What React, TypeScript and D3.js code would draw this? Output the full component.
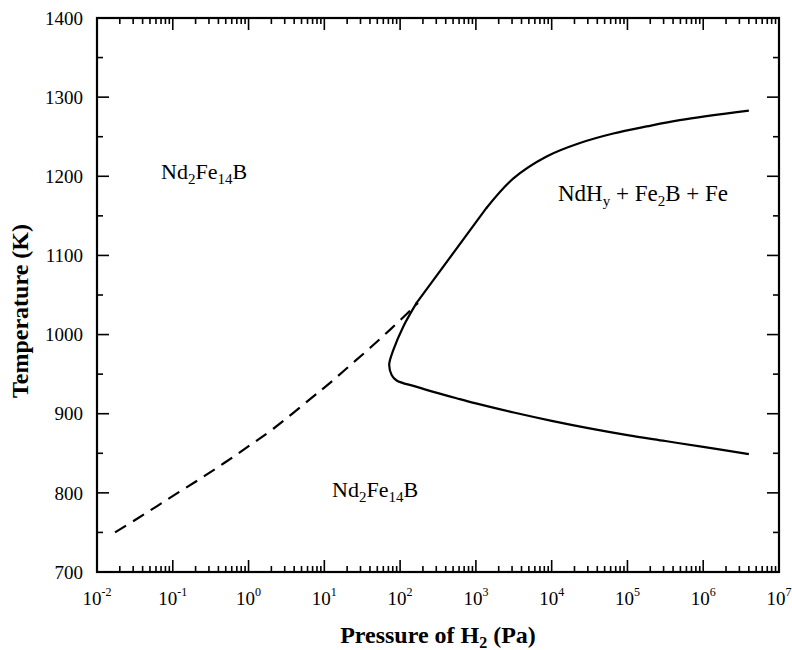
import React from "react";
import * as d3 from "d3";

// Dashed (metastable) boundary: pressure (Pa) and temperature (K)
const dashedP = [0.0173, 0.0334, 0.0614, 0.112, 0.207, 0.361, 0.662, 1.15, 2.12, 6.79, 11.9, 21.8, 40.0, 73.3, 135, 172];
const dashedT = [750, 767, 783, 799, 815, 830, 847, 863, 881, 920, 939, 961, 983, 1006, 1030, 1040];

// Upper solid branch (from high pressure end down to the kink)
const upperP = [4.0e6, 4.9e5, 1.79e5, 6.5e4, 2.36e4, 8570, 3100, 1380];
const upperT = [1283, 1271, 1263, 1254, 1242, 1225, 1197, 1160];

// Straight part below the kink
const straightP = [1380, 165];
const straightT = [1160, 1040];

// Nose and low-temperature branch
const lowerP = [165, 110, 81, 71.8, 77.3, 90, 158, 316, 556, 1000, 3162, 10000, 31623, 100000, 316228, 1.0e6, 4.0e6];
const lowerT = [1040, 1010, 980, 962, 949, 942, 934.5, 926, 919.5, 913, 901.5, 891, 881.5, 873, 865.5, 858, 849];

const xTickExps = [-2, -1, 0, 1, 2, 3, 4, 5, 6, 7];
const yTicks = [700, 800, 900, 1000, 1100, 1200, 1300, 1400];
const yMinorTicks = [750, 850, 950, 1050, 1150, 1250, 1350];

const FONT = "'Liberation Serif', 'Times New Roman', Times, serif";

export default function App() {
  const W = 792;
  const H = 650;
  const left = 97, right = 779, top = 18, bottom = 572;
  const x = d3.scaleLog().domain([1e-2, 1e7]).range([left, right]);
  const y = d3.scaleLinear().domain([700, 1400]).range([bottom, top]);

  const line = d3
    .line<[number, number]>()
    .x((d) => x(d[0]))
    .y((d) => y(d[1]))
    .curve(d3.curveCatmullRom.alpha(0.5));
  const lineStraight = d3
    .line<[number, number]>()
    .x((d) => x(d[0]))
    .y((d) => y(d[1]));

  const dashed = dashedP.map((p, i) => [p, dashedT[i]] as [number, number]);
  const upper = upperP.map((p, i) => [p, upperT[i]] as [number, number]);
  const straight = straightP.map((p, i) => [p, straightT[i]] as [number, number]);
  const lower = lowerP.map((p, i) => [p, lowerT[i]] as [number, number]);

  const minorX: number[] = [];
  for (let e = -2; e < 7; e++) {
    for (let k = 2; k <= 9; k++) minorX.push(k * Math.pow(10, e));
  }

  const MAJ = 12;
  const MIN = 6;

  return (
    <div style={{ position: "absolute", left: 0, top: 0 }}>
      <svg width={W} height={H} style={{ display: "block", background: "#fff" }}>
        <rect x={0} y={0} width={W} height={H} fill="#fff" />
        {/* ticks */}
        <g stroke="#000" strokeWidth={1.6}>
          {xTickExps.map((e) => {
            const xv = x(Math.pow(10, e));
            return (
              <g key={"xm" + e}>
                <line x1={xv} x2={xv} y1={bottom} y2={bottom - MAJ} />
                <line x1={xv} x2={xv} y1={top} y2={top + MAJ} />
              </g>
            );
          })}
          {minorX.map((v, i) => {
            const xv = x(v);
            return (
              <g key={"xn" + i}>
                <line x1={xv} x2={xv} y1={bottom} y2={bottom - MIN} />
                <line x1={xv} x2={xv} y1={top} y2={top + MIN} />
              </g>
            );
          })}
          {yTicks.map((t) => (
            <g key={"ym" + t}>
              <line x1={left} x2={left + MAJ} y1={y(t)} y2={y(t)} />
              <line x1={right} x2={right - MAJ} y1={y(t)} y2={y(t)} />
            </g>
          ))}
          {yMinorTicks.map((t) => (
            <g key={"yn" + t}>
              <line x1={left} x2={left + MIN} y1={y(t)} y2={y(t)} />
              <line x1={right} x2={right - MIN} y1={y(t)} y2={y(t)} />
            </g>
          ))}
        </g>
        {/* frame */}
        <rect x={left} y={top} width={right - left} height={bottom - top} fill="none" stroke="#000" strokeWidth={2.2} />

        {/* curves */}
        <path d={line(dashed) || ""} fill="none" stroke="#000" strokeWidth={2.2} strokeDasharray="13,8" />
        <path d={line(upper) || ""} fill="none" stroke="#000" strokeWidth={2.2} strokeLinejoin="round" />
        <path d={lineStraight(straight) || ""} fill="none" stroke="#000" strokeWidth={2.2} strokeLinecap="round" />
        <path d={line(lower) || ""} fill="none" stroke="#000" strokeWidth={2.2} strokeLinejoin="round" />

        {/* y tick labels */}
        {yTicks.map((t) => (
          <text key={"yl" + t} x={left - 14} y={y(t)} dy="0.35em" textAnchor="end" fontFamily={FONT} fontSize={19}>
            {t}
          </text>
        ))}
        {/* x tick labels */}
        {xTickExps.map((e) => (
          <text key={"xl" + e} x={x(Math.pow(10, e))} y={605} textAnchor="middle" fontFamily={FONT} fontSize={19}>
            10
            <tspan fontSize={12} dy={-9}>{e < 0 ? "-" + Math.abs(e) : String(e)}</tspan>
          </text>
        ))}

        {/* axis titles */}
        <text x={(left + right) / 2} y={643} textAnchor="middle" fontFamily={FONT} fontSize={24} fontWeight="bold">
          Pressure of H
          <tspan fontSize={16} dy={5}>2</tspan>
          <tspan dy={-5}> (Pa)</tspan>
        </text>
        <text
          transform={`translate(28, 311) rotate(-90)`}
          textAnchor="middle"
          fontFamily={FONT}
          fontSize={24}
          fontWeight="bold"
        >
          Temperature (K)
        </text>

        {/* region labels */}
        <text x={161} y={179} fontFamily={FONT} fontSize={22}>
          Nd<tspan fontSize={15} dy={5}>2</tspan>
          <tspan dy={-5}>Fe</tspan>
          <tspan fontSize={15} dy={5}>14</tspan>
          <tspan dy={-5}>B</tspan>
        </text>
        <text x={332} y={497} fontFamily={FONT} fontSize={22}>
          Nd<tspan fontSize={15} dy={5}>2</tspan>
          <tspan dy={-5}>Fe</tspan>
          <tspan fontSize={15} dy={5}>14</tspan>
          <tspan dy={-5}>B</tspan>
        </text>
        <text x={558} y={201} fontFamily={FONT} fontSize={23}>
          NdH<tspan fontSize={15} dy={5}>y</tspan>
          <tspan dy={-5}> + Fe</tspan>
          <tspan fontSize={15} dy={5}>2</tspan>
          <tspan dy={-5}>B + Fe</tspan>
        </text>
      </svg>
    </div>
  );
}
